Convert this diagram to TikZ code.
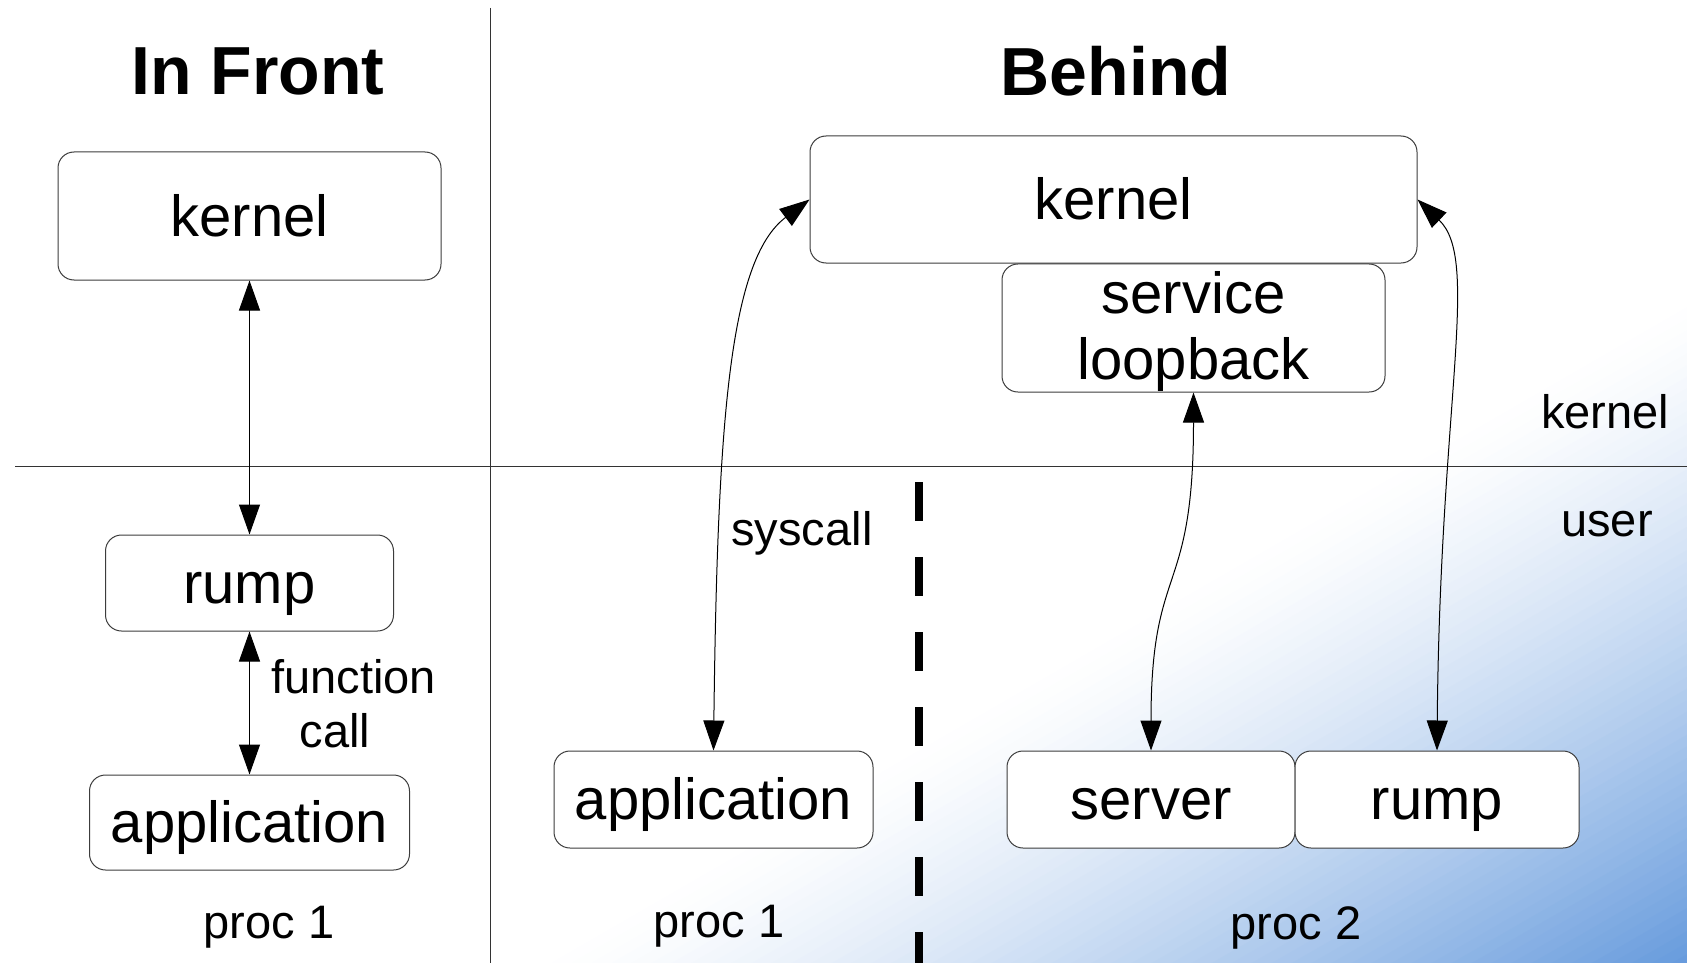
\documentclass[tikz,border=0pt]{standalone}
\usepackage{fontspec}
\setmainfont{Liberation Sans}
\usetikzlibrary{positioning, arrows.meta}
\definecolor{gradblue}{RGB}{100,153,220}
\definecolor{boxgray}{RGB}{60,60,60}
\tikzset{
  box/.style={draw=boxgray, line width=1pt, rounded corners=16pt, fill=white,
    font=\fontsize{58}{66}\selectfont, text height=40pt, text depth=0pt, inner sep=0pt},
  link/.style={{Triangle[length=30pt,width=21pt]}-{Triangle[length=30pt,width=21pt]}, line width=1pt},
  lbl/.style={font=\fontsize{47}{54}\selectfont, anchor=base},
  title/.style={font=\fontsize{68}{80}\selectfont\bfseries, anchor=base},
}

\begin{document}
\begin{tikzpicture}[x=1pt, y=-1pt]
    \useasboundingbox (0,0) rectangle (1687,963);
    \fill[white] (0,0) rectangle (1687,963);
    % Diagonal shading towards the lower right
    \begin{scope}
        \clip (0,0) rectangle (1687,963);
        \foreach \i [evaluate=\i as \p using 1100+10*\i, evaluate=\i as \f using 100*(\i/58)^1.3] in {0,...,58} {
            \fill[gradblue!\f!white] ({\p*0.5-500*0.866},{\p*0.866+500*0.5}) -- ({\p*0.5+1500*0.866},{\p*0.866-1500*0.5})
                -- ({1750*0.5+1500*0.866},{1750*0.866-1500*0.5}) -- ({1750*0.5-500*0.866},{1750*0.866+500*0.5}) -- cycle;
        }
    \end{scope}
    % Separators
    \draw[black!80, line width=1pt] (490,8) -- (490,963);
    \draw[black!80, line width=1pt] (15,466) -- (1687,466);
    \draw[line width=8pt, dash pattern=on 39pt off 36pt] (919,482) -- (919,963);
    % Titles
    \node[title] (front) at (258,95) {In Front};
    \node[title] (behind) at (1116,96) {Behind};
    % In front
    \node[box, minimum width=383pt, minimum height=128pt] (kernL) at (249.5,216) {kernel};
    \node[box, minimum width=288pt, minimum height=96pt] (rumpL) at (249.5,583) {rump};
    \node[box, minimum width=320pt, minimum height=95pt] (appL) at (249.5,822.5) {application};
    \node[lbl] (proc1L) at (269,938) {proc 1};
    \node[lbl] (fcallA) at (353.5,693) {function};
    \node[lbl] (fcallB) at (335,747) {call};
    \draw[link] (kernL.south) -- (rumpL.north);
    \draw[link] (rumpL.south) -- (appL.north);
    % Behind
    \node[box, minimum width=607pt, minimum height=127pt] (kernR) at (1113.5,199.5) {kernel};
    \node[box, minimum width=383pt, minimum height=128pt, align=center, text height=, text depth=] (loop) at (1193.5,328) {\rule{0pt}{50pt}service\\loopback};
    \node[box, minimum width=319pt, minimum height=97pt] (appR) at (713.5,799.5) {application};
    \node[box, minimum width=288pt, minimum height=97pt] (server) at (1151,799.5) {server};
    \node[box, minimum width=284pt, minimum height=97pt] (rumpR) at (1437,799.5) {rump};
    \node[lbl] (proc1R) at (719,937) {proc 1};
    \node[lbl] (proc2) at (1296,939) {proc 2};
    \node[lbl] (sys) at (802,545) {syscall};
    \node[lbl] (kspace) at (1605,428) {kernel};
    \node[lbl] (uspace) at (1607,536) {user};
    \draw[link] (appR.north) .. controls +(4,-331) and +(-80,60) .. (kernR.west);
    \draw[link] (loop.south) .. controls +(0,208) and +(0,-191) .. (server.north);
    \draw[link] (rumpR.north) .. controls +(3,-351) and +(63,60) .. (kernR.east);
\end{tikzpicture}
\end{document}
